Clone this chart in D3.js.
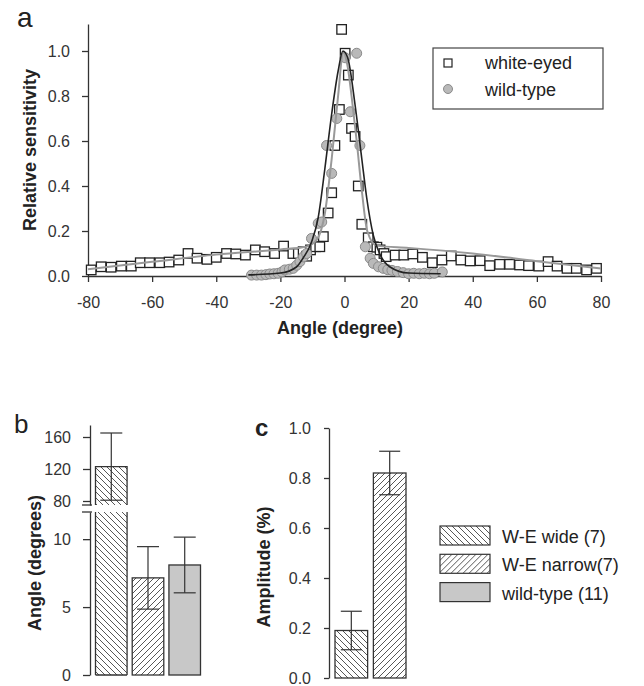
<!DOCTYPE html>
<html>
<head>
<meta charset="utf-8">
<style>
  body { margin: 0; background: #fff; }
  text { font-family: "Liberation Sans", Arial, sans-serif; }
</style>
</head>
<body>
<script src="https://cdn.jsdelivr.net/npm/d3@7"></script>
<script>

	// *** DATA ***

	// panel a : [angle, relative sensitivity]
	var whiteEyed = [
		[-79.0, 0.027], [-75.9, 0.041], [-72.8, 0.039], [-69.6, 0.044], [-66.5, 0.044],
		[-63.7, 0.059], [-60.8, 0.059], [-57.6, 0.059], [-54.7, 0.062], [-51.7, 0.071],
		[-48.8, 0.100], [-46.0, 0.079], [-42.9, 0.074], [-40.0, 0.083], [-36.8, 0.100],
		[-33.9, 0.098], [-30.9, 0.093], [-27.8, 0.116], [-24.9, 0.108], [-21.8, 0.100],
		[-19.0, 0.133], [-16.1, 0.100], [-14.4, 0.100], [-12.9, 0.108], [-11.8, 0.088],
		[-10.6, 0.116], [-9.0, 0.130], [-7.7, 0.130], [-6.6, 0.175], [-5.1, 0.280],
		[-4.0, 0.370], [-3.0, 0.580], [-1.6, 0.740], [-0.9, 1.096], [0.2, 0.990],
		[1.2, 0.893], [2.2, 0.656], [3.3, 0.620], [4.3, 0.400], [5.4, 0.230],
		[7.4, 0.170], [9.0, 0.130], [10.1, 0.128], [11.1, 0.116], [12.3, 0.100],
		[13.0, 0.086], [15.8, 0.093], [18.5, 0.093], [21.3, 0.098], [24.3, 0.083],
		[27.4, 0.059], [30.4, 0.071], [33.3, 0.089], [36.3, 0.071], [39.2, 0.067],
		[42.3, 0.068], [45.3, 0.046], [48.4, 0.052], [51.5, 0.052], [54.6, 0.049],
		[57.4, 0.046], [60.6, 0.044], [63.5, 0.064], [66.3, 0.044], [69.4, 0.034],
		[72.3, 0.034], [75.5, 0.027], [78.6, 0.034]
	];

	var wildType = [
		[-29.0, 0.004], [-27.4, 0.004], [-25.9, 0.004], [-24.5, 0.006], [-23.3, 0.009],
		[-22.0, 0.010], [-20.7, 0.012], [-19.5, 0.018], [-18.6, 0.027], [-17.2, 0.030],
		[-16.0, 0.034], [-14.9, 0.048], [-13.9, 0.064], [-12.8, 0.085], [-11.8, 0.100],
		[-10.3, 0.167], [-8.2, 0.234], [-7.1, 0.240], [-5.6, 0.580], [-4.0, 0.456],
		[-2.4, 0.700], [0.2, 0.970], [1.8, 0.730], [3.8, 0.990], [4.8, 0.580],
		[6.5, 0.130], [8.0, 0.079], [9.0, 0.056], [10.6, 0.041], [12.1, 0.034],
		[13.5, 0.028], [14.8, 0.025], [16.5, 0.020], [18.3, 0.015], [20.0, 0.010],
		[21.6, 0.012], [23.3, 0.010], [24.9, 0.012], [26.5, 0.010], [28.0, 0.012],
		[30.5, 0.018]
	];

	// fitted curves
	var fitWhiteEyed = [
		[-80, 0.030], [-60, 0.063], [-40, 0.095], [-20, 0.118], [-12, 0.130],
		[-8.7, 0.160], [-6.1, 0.280], [-4.0, 0.520], [-2.0, 0.800], [-0.4, 0.995],
		[1.0, 0.930], [2.2, 0.800], [3.8, 0.600], [5.4, 0.380], [7.1, 0.200],
		[10, 0.135], [20, 0.125], [40, 0.100], [60, 0.066], [80, 0.033]
	];

	var fitWildType = [
		[-30, 0.005], [-20, 0.013], [-15, 0.040], [-12.9, 0.080], [-10.3, 0.150],
		[-8.2, 0.260], [-6.1, 0.480], [-4.0, 0.720], [-2.0, 0.910], [-0.5, 1.000],
		[1.0, 0.970], [3.3, 0.760], [5.4, 0.520], [6.9, 0.350], [9.0, 0.180],
		[11.1, 0.095], [14.2, 0.040], [20, 0.013], [30, 0.010]
	];

	var xTicksA = [-80, -60, -40, -20, 0, 20, 40, 60, 80];
	var yTicksA = [0, 0.2, 0.4, 0.6, 0.8, 1.0];

	// panels b and c
	var groups = ["W-E wide (7)", "W-E narrow(7)", "wild-type (11)"];
	var angleMean = [123, 7.15, 8.1];
	var angleErr = [42, 2.3, 2.05];
	var ampMean = [0.19, 0.82];
	var ampErr = [0.077, 0.087];

	var yTicksLow = [0, 5, 10];
	var yTicksUp = [80, 120, 160];
	var yTicksC = [0, 0.2, 0.4, 0.6, 0.8, 1.0];

	// *** SETUP ***

	var W = 644, H = 686;
	var ink = "#333";

	var svg = d3.select("body").append("svg")
		.attr("width", W)
		.attr("height", H);

	var defs = svg.append("defs");

	// hatch patterns
	defs.append("pattern")
		.attr("id", "hatchBack")
		.attr("patternUnits", "userSpaceOnUse")
		.attr("width", 6).attr("height", 6)
		.append("path")
			.attr("d", "M0,0 L6,6 M-1,5 L1,7 M5,-1 L7,1")
			.attr("stroke", "#444")
			.attr("stroke-width", 0.9);

	defs.append("pattern")
		.attr("id", "hatchFwd")
		.attr("patternUnits", "userSpaceOnUse")
		.attr("width", 6).attr("height", 6)
		.append("path")
			.attr("d", "M0,6 L6,0 M-1,1 L1,-1 M5,7 L7,5")
			.attr("stroke", "#444")
			.attr("stroke-width", 0.9);

	var fills = ["url(#hatchBack)", "url(#hatchFwd)", "#c8c8c8"];

	function styleAxis(g){
		g.select(".domain").attr("stroke", ink).attr("stroke-width", 1.3);
		g.selectAll(".tick line").attr("stroke", ink).attr("stroke-width", 1.3);
		g.selectAll(".tick text")
			.attr("fill", ink)
			.style("font-size", "16px")
			.style("font-family", "Liberation Sans, Arial, sans-serif");
	}

	function errorBar(g, x, yTop, yBot, cap){
		g.append("line").attr("x1", x).attr("x2", x).attr("y1", yTop).attr("y2", yBot);
		g.append("line").attr("x1", x - cap/2).attr("x2", x + cap/2).attr("y1", yTop).attr("y2", yTop);
		g.append("line").attr("x1", x - cap/2).attr("x2", x + cap/2).attr("y1", yBot).attr("y2", yBot);
	}

	// *** PANEL A ***

	var xA = d3.scaleLinear().domain([-80, 80]).range([88, 601]);
	var yA = d3.scaleLinear().domain([0, 1.12]).range([276, 24]);

	var gA = svg.append("g");

	gA.append("g")
		.attr("transform", "translate(0,276)")
		.call(d3.axisBottom(xA).tickValues(xTicksA).tickFormat(function(d){ return String(d); })
			.tickSize(6).tickSizeOuter(0).tickPadding(15))
		.call(styleAxis);

	gA.append("g")
		.attr("transform", "translate(88,0)")
		.call(d3.axisLeft(yA).tickValues(yTicksA).tickFormat(d3.format(".1f"))
			.tickSize(6).tickSizeOuter(0).tickPadding(12))
		.call(styleAxis);

	// markers
	var sq = 9.5;
	gA.append("g").selectAll("rect").data(whiteEyed).enter()
		.append("rect")
			.attr("x", function(d){ return xA(d[0]) - sq/2; })
			.attr("y", function(d){ return yA(d[1]) - sq/2; })
			.attr("width", sq).attr("height", sq)
			.attr("fill", "#fff")
			.attr("stroke", "#222")
			.attr("stroke-width", 1.3);

	gA.append("g").selectAll("circle").data(wildType).enter()
		.append("circle")
			.attr("cx", function(d){ return xA(d[0]); })
			.attr("cy", function(d){ return yA(d[1]); })
			.attr("r", 5)
			.attr("fill", "#b9b9b9")
			.attr("stroke", "#8a8a8a")
			.attr("stroke-width", 1);

	// fitted lines
	var lineA = d3.line()
		.x(function(d){ return xA(d[0]); })
		.y(function(d){ return yA(d[1]); })
		.curve(d3.curveMonotoneX);

	gA.append("path").datum(fitWhiteEyed)
		.attr("d", lineA).attr("fill", "none")
		.attr("stroke", "#999").attr("stroke-width", 2);

	gA.append("path").datum(fitWildType)
		.attr("d", lineA).attr("fill", "none")
		.attr("stroke", "#222").attr("stroke-width", 1.6);

	// titles
	gA.append("text").text("a")
		.attr("x", 17).attr("y", 27)
		.style("font-size", "28px").attr("fill", "#222");

	gA.append("text").text("Angle (degree)")
		.attr("x", 340).attr("y", 334)
		.attr("text-anchor", "middle")
		.style("font-size", "18px").style("font-weight", "bold").attr("fill", "#222");

	gA.append("text").text("Relative sensitivity")
		.attr("transform", "translate(36,150) rotate(-90)")
		.attr("text-anchor", "middle")
		.style("font-size", "18px").style("font-weight", "bold").attr("fill", "#222");

	// legend a
	var legA = gA.append("g");
	legA.append("rect")
		.attr("x", 433).attr("y", 48).attr("width", 170).attr("height", 61)
		.attr("fill", "#fff").attr("stroke", "#444").attr("stroke-width", 1.2);
	legA.append("rect")
		.attr("x", 444).attr("y", 59).attr("width", 8).attr("height", 8)
		.attr("fill", "#fff").attr("stroke", "#222").attr("stroke-width", 1.2);
	legA.append("circle")
		.attr("cx", 448).attr("cy", 89).attr("r", 4.5)
		.attr("fill", "#b9b9b9").attr("stroke", "#8a8a8a");
	legA.append("text").text("white-eyed")
		.attr("x", 485).attr("y", 69).style("font-size", "18px").attr("fill", "#222");
	legA.append("text").text("wild-type")
		.attr("x", 485).attr("y", 96).style("font-size", "18px").attr("fill", "#222");

	// *** PANEL B (broken axis) ***

	var xB = d3.scaleBand().domain(d3.range(groups.length)).range([95.5, 200.5]).paddingInner(0.14);
	var yLow = d3.scaleLinear().domain([0, 12]).range([675, 512]);
	var yUp = d3.scaleLinear().domain([75, 175]).range([505, 425]);

	var gB = svg.append("g");

	// bars
	angleMean.forEach(function(m, i){
		var x = xB(i), w = xB.bandwidth();
		if(m > yLow.domain()[1]){
			gB.append("rect")
				.attr("x", x).attr("y", yLow(yLow.domain()[1]))
				.attr("width", w).attr("height", yLow(0) - yLow(yLow.domain()[1]))
				.attr("fill", fills[i]);
			gB.append("rect")
				.attr("x", x).attr("y", yUp(m))
				.attr("width", w).attr("height", yUp(yUp.domain()[0]) - yUp(m))
				.attr("fill", fills[i]);
			// outline without the break edges
			gB.append("path")
				.attr("d", "M" + x + "," + yLow(0) + "V" + yLow(yLow.domain()[1]) +
					"M" + (x + w) + "," + yLow(0) + "V" + yLow(yLow.domain()[1]) +
					"M" + x + "," + yLow(0) + "H" + (x + w) +
					"M" + x + "," + yUp(yUp.domain()[0]) + "V" + yUp(m) + "H" + (x + w) + "V" + yUp(yUp.domain()[0]))
				.attr("fill", "none").attr("stroke", ink).attr("stroke-width", 1.3);
		}else{
			gB.append("rect")
				.attr("x", x).attr("y", yLow(m))
				.attr("width", w).attr("height", yLow(0) - yLow(m))
				.attr("fill", fills[i])
				.attr("stroke", ink).attr("stroke-width", 1.3);
		}
	});

	// error bars
	var eB = gB.append("g").attr("stroke", ink).attr("stroke-width", 1.2);
	angleMean.forEach(function(m, i){
		var sc = m > yLow.domain()[1] ? yUp : yLow;
		errorBar(eB, xB(i) + xB.bandwidth()/2, sc(m + angleErr[i]), sc(m - angleErr[i]), 22);
	});

	gB.append("g")
		.attr("transform", "translate(90,0)")
		.call(d3.axisLeft(yLow).tickValues(yTicksLow).tickSize(7).tickSizeOuter(0).tickPadding(12))
		.call(styleAxis);

	gB.append("g")
		.attr("transform", "translate(90,0)")
		.call(d3.axisLeft(yUp).tickValues(yTicksUp).tickSize(7).tickSizeOuter(0).tickPadding(12))
		.call(styleAxis);

	// break marks
	[yUp(yUp.domain()[0]), yLow(yLow.domain()[1])].forEach(function(y){
		gB.append("line")
			.attr("x1", 82).attr("x2", 92).attr("y1", y).attr("y2", y)
			.attr("stroke", ink).attr("stroke-width", 1.3);
	});

	gB.append("text").text("b")
		.attr("x", 14).attr("y", 433)
		.style("font-size", "26px").attr("fill", "#222");

	gB.append("text").text("Angle (degrees)")
		.attr("transform", "translate(41,563) rotate(-90)")
		.attr("text-anchor", "middle")
		.style("font-size", "18px").style("font-weight", "bold").attr("fill", "#222");

	// *** PANEL C ***

	var xC = d3.scaleBand().domain(d3.range(ampMean.length)).range([335, 406]).paddingInner(0.15);
	var yC = d3.scaleLinear().domain([0, 1]).range([678, 428]);

	var gC = svg.append("g");

	gC.selectAll("rect").data(ampMean).enter()
		.append("rect")
			.attr("x", function(d, i){ return xC(i); })
			.attr("y", function(d){ return yC(d); })
			.attr("width", xC.bandwidth())
			.attr("height", function(d){ return yC(0) - yC(d); })
			.attr("fill", function(d, i){ return fills[i]; })
			.attr("stroke", ink).attr("stroke-width", 1.3);

	var eC = gC.append("g").attr("stroke", ink).attr("stroke-width", 1.2);
	ampMean.forEach(function(m, i){
		errorBar(eC, xC(i) + xC.bandwidth()/2, yC(m + ampErr[i]), yC(m - ampErr[i]), 21);
	});

	gC.append("g")
		.attr("transform", "translate(329,0)")
		.call(d3.axisLeft(yC).tickValues(yTicksC).tickFormat(d3.format(".1f"))
			.tickSize(5).tickSizeOuter(0).tickPadding(13))
		.call(styleAxis);

	gC.append("text").text("c")
		.attr("x", 255).attr("y", 436)
		.style("font-size", "24px").style("font-weight", "bold").attr("fill", "#222");

	gC.append("text").text("Amplitude (%)")
		.attr("transform", "translate(270,567) rotate(-90)")
		.attr("text-anchor", "middle")
		.style("font-size", "18px").style("font-weight", "bold").attr("fill", "#222");

	// legend b/c
	var legB = svg.append("g").selectAll("g").data(groups).enter()
		.append("g")
			.attr("transform", function(d, i){ return "translate(440," + (526 + i*28.3) + ")"; });

	legB.append("rect")
		.attr("width", 50).attr("height", 19)
		.attr("fill", function(d, i){ return fills[i]; })
		.attr("stroke", ink).attr("stroke-width", 1.2);

	legB.append("text")
		.text(function(d){ return d; })
		.attr("x", 62).attr("y", 17)
		.style("font-size", "18px").attr("fill", "#222");

</script>
</body>
</html>
